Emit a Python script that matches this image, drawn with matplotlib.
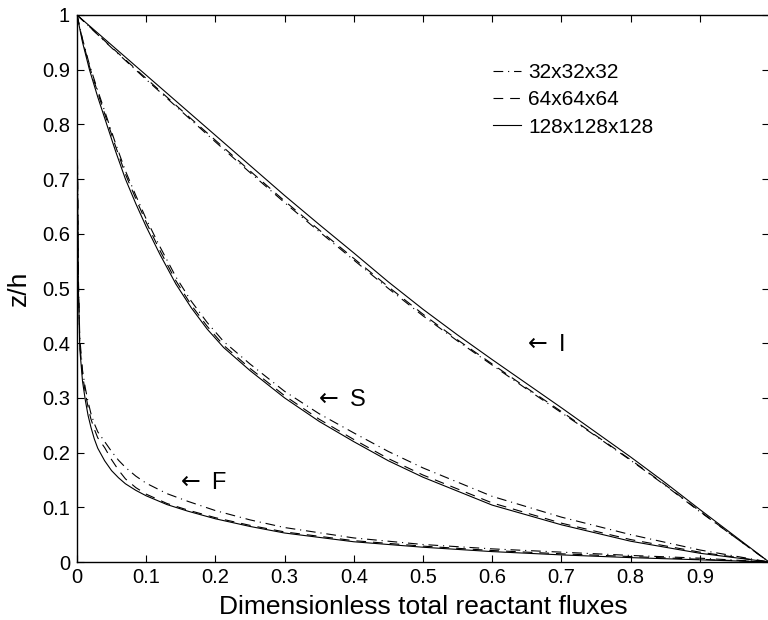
import numpy as np
import matplotlib
matplotlib.use("Agg")
import matplotlib.pyplot as plt

plt.rcParams['font.family'] = ['Liberation Sans', 'DejaVu Sans']
plt.rcParams['lines.scale_dashes'] = False

# curve I
x_I = [0, 0.05, 0.1, 0.15, 0.2, 0.25, 0.3, 0.35, 0.4, 0.45, 0.5,
       0.55, 0.6, 0.65, 0.7, 0.75, 0.8, 0.85, 0.9, 0.95, 1.0]
I_128 = [1, 0.945, 0.89, 0.835, 0.78, 0.725, 0.67, 0.617, 0.565, 0.512, 0.462,
         0.415, 0.37, 0.326, 0.282, 0.237, 0.192, 0.145, 0.096, 0.048, 0]
I_64 = [1, 0.941, 0.884, 0.827, 0.771, 0.715, 0.66, 0.607, 0.555, 0.503, 0.453,
        0.406, 0.362, 0.318, 0.275, 0.231, 0.187, 0.141, 0.093, 0.046, 0]
I_32 = [1, 0.940, 0.882, 0.825, 0.768, 0.712, 0.657, 0.604, 0.552, 0.5, 0.45,
        0.404, 0.36, 0.316, 0.273, 0.23, 0.186, 0.14, 0.092, 0.046, 0]

# curve S
x_S = [0, 0.008, 0.018, 0.03, 0.043, 0.056, 0.07, 0.085, 0.1, 0.12, 0.143,
       0.165, 0.188, 0.212, 0.25, 0.3, 0.35, 0.4, 0.45, 0.5, 0.6, 0.7,
       0.8, 0.9, 1.0]
S_128 = [1, 0.95, 0.9, 0.85, 0.8, 0.75, 0.7, 0.655, 0.613, 0.562, 0.508,
         0.465, 0.426, 0.392, 0.35, 0.3, 0.257, 0.22, 0.185, 0.155, 0.104, 0.068,
         0.038, 0.016, 0]
S_64 = [1, 0.954, 0.906, 0.858, 0.808, 0.759, 0.709, 0.664, 0.621, 0.569, 0.514,
        0.47, 0.431, 0.396, 0.354, 0.304, 0.261, 0.224, 0.189, 0.159, 0.108, 0.071,
        0.041, 0.018, 0]
S_32 = [1, 0.956, 0.909, 0.862, 0.813, 0.764, 0.715, 0.67, 0.627, 0.576, 0.521,
        0.477, 0.438, 0.403, 0.362, 0.312, 0.271, 0.236, 0.202, 0.172, 0.12, 0.082,
        0.05, 0.022, 0]

# curve F
x_F = [0, 0.0005, 0.002, 0.004, 0.008, 0.012, 0.016, 0.02, 0.025, 0.03, 0.04,
       0.05, 0.06, 0.07, 0.085, 0.1, 0.13, 0.16, 0.2, 0.25, 0.3, 0.4, 0.5,
       0.6, 0.7, 0.8, 0.9, 1.0]
F_128 = [1, 0.75, 0.5, 0.39, 0.33, 0.296, 0.268, 0.247, 0.225, 0.208, 0.185,
         0.167, 0.154, 0.143, 0.131, 0.121, 0.105, 0.093, 0.079, 0.065, 0.053, 0.037, 0.027,
         0.019, 0.013, 0.008, 0.004, 0]
F_64 = [1, 0.76, 0.51, 0.4, 0.342, 0.31, 0.283, 0.262, 0.243, 0.227, 0.209,
        0.187, 0.168, 0.152, 0.136, 0.124, 0.107, 0.095, 0.081, 0.067, 0.055, 0.039, 0.029,
        0.021, 0.015, 0.01, 0.005, 0]
F_32 = [1, 0.77, 0.52, 0.41, 0.35, 0.318, 0.293, 0.272, 0.253, 0.238, 0.22,
        0.202, 0.186, 0.173, 0.157, 0.144, 0.125, 0.111, 0.094, 0.077, 0.063, 0.044, 0.032,
        0.024, 0.018, 0.012, 0.007, 0]

labels = ['32x32x32', '64x64x64', '128x128x128']
x_ticks = [0, 0.1, 0.2, 0.3, 0.4, 0.5, 0.6, 0.7, 0.8, 0.9]
x_ticklabels = ['0', '0.1', '0.2', '0.3', '0.4', '0.5', '0.6', '0.7', '0.8', '0.9']
y_ticks = [0, 0.1, 0.2, 0.3, 0.4, 0.5, 0.6, 0.7, 0.8, 0.9, 1.0]
y_ticklabels = ['0', '0.1', '0.2', '0.3', '0.4', '0.5', '0.6', '0.7', '0.8', '0.9', '1']

fig = plt.figure(figsize=(7.68, 6.2), dpi=100)
ax = fig.add_axes([77 / 768, 58 / 620, 692 / 768, 547 / 620])

dashdot = (0, (7, 3.5, 0.8, 3.5))
dashed = (0, (7, 5))
lw = 0.8

for x, y32, y64, y128 in [(x_I, I_32, I_64, I_128),
                          (x_S, S_32, S_64, S_128),
                          (x_F, F_32, F_64, F_128)]:
    ax.plot(x, y32, color='k', lw=lw, linestyle=dashdot)
    ax.plot(x, y64, color='k', lw=lw, linestyle=dashed)
    ax.plot(x, y128, color='k', lw=lw, linestyle='-')

# legend handles
h1, = ax.plot([], [], color='k', lw=lw, linestyle=dashdot)
h2, = ax.plot([], [], color='k', lw=lw, linestyle=dashed)
h3, = ax.plot([], [], color='k', lw=lw, linestyle='-')
ax.legend([h1, h2, h3], labels, loc='center left', bbox_to_anchor=(0.601, 0.845),
          frameon=False, fontsize=15, handlelength=1.35, handletextpad=0.35,
          labelspacing=0.4, borderpad=0, borderaxespad=0)

ax.text(0.645, 0.397, r'$\leftarrow$ I', fontsize=17, va='center', ha='left')
ax.text(0.342, 0.296, r'$\leftarrow$ S', fontsize=17, va='center', ha='left')
ax.text(0.143, 0.144, r'$\leftarrow$ F', fontsize=17, va='center', ha='left')

ax.set_xlim(0, 1)
ax.set_ylim(0, 1)
ax.set_xticks(x_ticks)
ax.set_xticklabels(x_ticklabels)
ax.set_yticks(y_ticks)
ax.set_yticklabels(y_ticklabels)
ax.tick_params(direction='in', top=True, right=True, length=5, width=0.8,
               labelsize=14.5)
ax.tick_params(axis='y', pad=5)
ax.tick_params(axis='x', pad=4)
for s in ax.spines.values():
    s.set_linewidth(1.0)

ax.set_xlabel('Dimensionless total reactant fluxes', fontsize=19, labelpad=6)
ax.set_ylabel('z/h', fontsize=19, labelpad=8)

fig.savefig('out.png', dpi=100)
